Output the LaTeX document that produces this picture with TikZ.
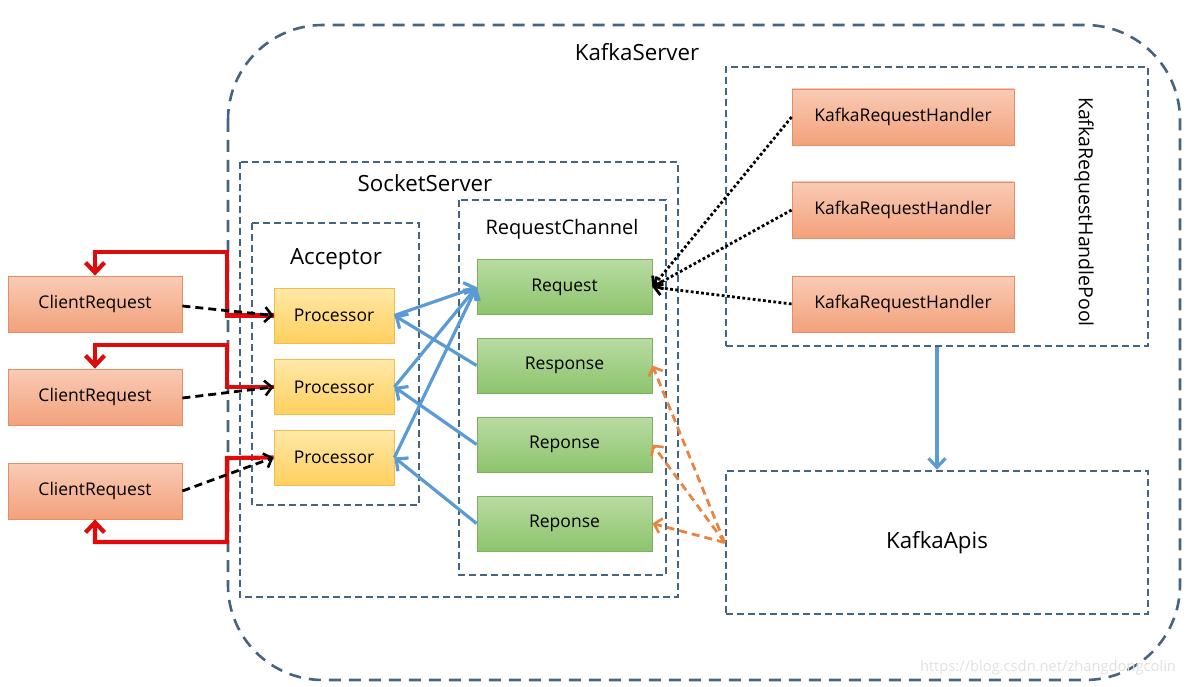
\documentclass[tikz,border=0pt]{standalone}
\usepackage{fontspec}
\setmainfont{Open Sans}
\usetikzlibrary{arrows.meta}
\definecolor{frame}{HTML}{45647F}
\definecolor{ablue}{HTML}{5B9BD5}
\definecolor{ared}{HTML}{E00A0A}
\definecolor{aorange}{HTML}{E8843F}
\definecolor{salmonedge}{HTML}{E58D66}
\definecolor{salmontop}{HTML}{F9CBB5}
\definecolor{salmonbot}{HTML}{F3A17C}
\definecolor{procedge}{HTML}{F2BE4A}
\definecolor{proctop}{HTML}{FFE8A8}
\definecolor{procbot}{HTML}{FFD05E}
\definecolor{greenedge}{HTML}{7DAF5E}
\definecolor{greentop}{HTML}{B9DBA2}
\definecolor{greenbot}{HTML}{8DC46D}
\tikzset{
  x=1pt, y=-1pt,
  boxfont/.style={font=\fontsize{17.5}{20}\selectfont},
  salmon/.style={draw=salmonedge, line width=0.8pt, top color=salmontop, bottom color=salmonbot, minimum width=174pt, minimum height=56pt, inner sep=0pt, boxfont},
  procbox/.style={draw=procedge, line width=0.8pt, top color=proctop, bottom color=procbot, minimum width=120pt, minimum height=55pt, inner sep=0pt, boxfont},
  greenbox/.style={draw=greenedge, line width=0.8pt, top color=greentop, bottom color=greenbot, minimum width=175pt, minimum height=55pt, inner sep=0pt, boxfont},
  handler/.style={salmon, minimum width=222pt},
  frm/.style={draw=frame, line width=2.7pt, dash pattern=on 7pt off 4pt, inner sep=0pt},
  lbl/.style={inner sep=0pt, font=\fontsize{22.3}{26}\selectfont},
  bluearr/.style={draw=ablue, line width=3.2pt, -{Straight Barb[length=9pt,width=17pt,line width=3.2pt]}},
  redarr/.style={draw=ared, line width=4.2pt, -{Straight Barb[length=10pt,width=19pt,line width=4.2pt]}},
  blackdash/.style={draw=black, line width=2.8pt, dash pattern=on 8pt off 5pt, -{Straight Barb[length=7pt,width=15pt,line width=2.6pt]}},
  dotarr/.style={draw=black, line width=2.8pt, dash pattern=on 2.8pt off 2.4pt, -{Straight Barb[length=7pt,width=14pt,line width=2.8pt]}},
  orarr/.style={draw=aorange, line width=2.8pt, dash pattern=on 8pt off 5pt, -{Straight Barb[length=7pt,width=15pt,line width=2.6pt]}},
}
\begin{document}
\begin{tikzpicture}
\useasboundingbox (0,0) rectangle (1191,687);
% frames
\draw[draw=frame, line width=2.6pt, dash pattern=on 12pt off 8pt, rounded corners=95pt] (228,25) rectangle (1180,680);
\node[lbl] (kstitle) at (637,52) {KafkaServer};
\draw[frm] (240,162) rectangle (678,597);
\node[lbl] (sstitle) at (425,183) {SocketServer};
\draw[frm] (252,223) rectangle (419,505);
\node[lbl] (acctitle) at (336,259) {Acceptor};
\draw[frm] (459,200) rectangle (666,575);
\node[lbl, font=\fontsize{20}{24}\selectfont] (rctitle) at (562,229) {RequestChannel};
\node[frm, minimum width=422pt, minimum height=279pt] (pool) at (937,206.5) {};
\node[lbl, rotate=-90, font=\fontsize{19.5}{23}\selectfont] (pooltitle) at (1084,212) {KafkaRequestHandlePool};
\node[frm, minimum width=422pt, minimum height=143pt, font=\fontsize{22.3}{26}\selectfont] (apis) at (937,542.5) {KafkaApis};
% client requests
\node[salmon] (c1) at (95,304) {ClientRequest};
\node[salmon] (c2) at (95,397) {ClientRequest};
\node[salmon] (c3) at (95,491) {ClientRequest};
% processors
\node[procbox] (p1) at (334,315.5) {Processor};
\node[procbox] (p2) at (334,387) {Processor};
\node[procbox] (p3) at (334,457.5) {Processor};
% channel
\node[greenbox] (req) at (564.5,287) {Request};
\node[greenbox] (r1) at (564.5,365.5) {Response};
\node[greenbox] (r2) at (564.5,444.5) {Reponse};
\node[greenbox] (r3) at (564.5,523.5) {Reponse};
% handlers
\node[handler] (h1) at (903,117) {KafkaRequestHandler};
\node[handler] (h2) at (903,210) {KafkaRequestHandler};
\node[handler] (h3) at (903,304) {KafkaRequestHandler};
% watermark
\node[inner sep=0pt, text=black!12, font=\fontsize{14.7}{17}\selectfont] (wm) at (1048,668) {https://blog.csdn.net/zhangdongcolin};
% red return paths
\draw[redarr] (p1.west) -- (227,315.5) -- (227,252) -| (c1.north);
\draw[redarr] (p2.west) -- (227,387) -- (227,345) -| (c2.north);
\draw[redarr] (p3.west) -- (227,458) -- (227,542) -| (c3.south);
% black dashed requests
\draw[blackdash] ([yshift=-2pt]c1.east) -- (p1.west);
\draw[blackdash] ([yshift=-1pt]c2.east) -- (p2.west);
\draw[blackdash] (c3.east) -- (p3.west);
% blue
\draw[bluearr] (p1.east) -- (req.west);
\draw[bluearr] (p2.east) -- (req.west);
\draw[bluearr] (p3.east) -- (req.west);
\draw[bluearr] (r1.west) -- (p1.east);
\draw[bluearr] (r2.west) -- (p2.east);
\draw[bluearr] (r3.west) -- (p3.east);
\draw[bluearr] (pool.south) -- (apis.north);
% dotted handlers
\draw[dotarr] (h1.west) -- (req.east);
\draw[dotarr] (h2.west) -- (req.east);
\draw[dotarr] (h3.west) -- (req.east);
% orange
\draw[orarr] (apis.west) -- (r1.east);
\draw[orarr] (apis.west) -- (r2.east);
\draw[orarr] (apis.west) -- (r3.east);
\end{tikzpicture}
\end{document}
